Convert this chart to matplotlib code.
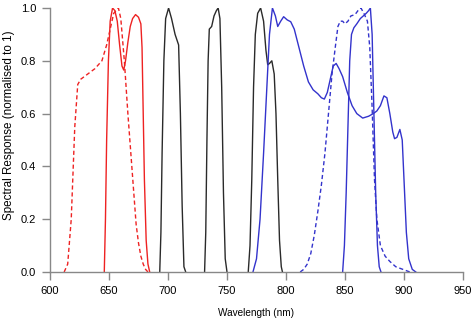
import matplotlib
matplotlib.use("Agg")
import matplotlib.pyplot as plt

plt.rcParams["font.family"] = ["Liberation Sans", "DejaVu Sans"]

# red, dashed
red_dash_x = [612, 615, 618, 621, 623.5, 626, 632, 638, 644, 648, 651, 654, 656, 658, 660, 663, 666, 669, 671, 673, 675, 677, 679, 681, 683]
red_dash_y = [0.0, 0.03, 0.2, 0.55, 0.71, 0.73, 0.75, 0.77, 0.80, 0.86, 0.92, 0.98, 0.99, 1.0, 0.96, 0.8, 0.6, 0.42, 0.3, 0.18, 0.11, 0.06, 0.03, 0.01, 0.0]
# red, solid
red_x = [646, 647, 648, 649.5, 651, 653, 655, 657, 659, 661, 662.5, 664, 666, 668, 670, 672.5, 675, 677, 678, 679, 680, 681.5, 683, 684.5]
red_y = [0.0, 0.2, 0.5, 0.8, 0.95, 1.0, 0.99, 0.95, 0.86, 0.78, 0.765, 0.8, 0.87, 0.93, 0.96, 0.975, 0.965, 0.94, 0.85, 0.6, 0.35, 0.12, 0.03, 0.0]
# black bands
blk1_x = [693, 694, 695, 696.5, 698, 700.5, 703, 706, 709, 710.5, 712, 713.5, 715]
blk1_y = [0.0, 0.15, 0.45, 0.8, 0.96, 1.0, 0.96, 0.9, 0.86, 0.6, 0.25, 0.02, 0.0]
blk2_x = [731, 732, 733, 734, 735, 737, 739, 741, 742.5, 744, 745.5, 747, 748.5, 750]
blk2_y = [0.0, 0.15, 0.5, 0.8, 0.92, 0.93, 0.97, 0.99, 1.0, 0.96, 0.7, 0.3, 0.05, 0.0]
blk3_x = [768, 769.5, 771, 772.5, 774, 776, 778.5, 781, 783, 784.5, 786, 788, 790, 791.5, 793, 794.5, 796, 797]
blk3_y = [0.0, 0.1, 0.35, 0.7, 0.9, 0.98, 1.0, 0.95, 0.84, 0.785, 0.79, 0.80, 0.75, 0.6, 0.35, 0.12, 0.02, 0.0]
# blue, solid broad
blu_x = [772, 775, 778, 781, 784, 786, 788.5, 791, 793, 795.5, 798, 801, 804, 807, 811, 815, 819, 823, 827, 830, 832.5, 835, 838, 840, 842.5,
         845, 848, 852, 856, 860, 865, 870, 874, 877, 880, 883, 885.5, 888, 890.5, 892, 894, 896.5, 898.5, 900, 902, 904, 907, 910]
blu_y = [0.0, 0.05, 0.2, 0.45, 0.72, 0.9, 1.0, 0.97, 0.93, 0.95, 0.967, 0.955, 0.948, 0.92, 0.85, 0.78, 0.72, 0.69, 0.675, 0.66, 0.655, 0.68, 0.74, 0.78, 0.79,
         0.77, 0.74, 0.68, 0.63, 0.6, 0.583, 0.59, 0.6, 0.61, 0.63, 0.667, 0.66, 0.6, 0.53, 0.505, 0.51, 0.54, 0.5, 0.35, 0.15, 0.05, 0.01, 0.0]
# blue, dashed
blu_dash_x = [812, 815, 818, 821, 824, 827, 830, 833, 836, 839, 842, 844, 846, 848, 850, 852.5, 855, 858.5, 861, 863.5, 866, 869, 871, 873, 875, 877, 880, 884, 888, 893, 899, 905]
blu_dash_y = [0.0, 0.01, 0.03, 0.07, 0.14, 0.23, 0.33, 0.45, 0.6, 0.75, 0.86, 0.93, 0.95, 0.95, 0.94, 0.95, 0.97, 0.975, 0.99, 1.0, 0.98, 0.95, 0.85, 0.62, 0.35, 0.2, 0.1, 0.06, 0.04, 0.02, 0.01, 0.0]
# blue, solid narrow
blu2_x = [848, 849.5, 851, 852.5, 854, 855.5, 857.5, 860, 863, 865.5, 868, 870, 871.5, 873, 874.5, 876, 877.5, 879, 880.5]
blu2_y = [0.0, 0.1, 0.3, 0.55, 0.8, 0.9, 0.925, 0.94, 0.96, 0.97, 0.98, 0.99, 1.0, 0.9, 0.6, 0.3, 0.1, 0.02, 0.0]

x_ticks = [600, 650, 700, 750, 800, 850, 900, 950]
y_ticks = [0.0, 0.2, 0.4, 0.6, 0.8, 1.0]

RED = "#ee2222"
BLACK = "#2a2a2a"
BLUE = "#3333cc"

fig = plt.figure(figsize=(4.74, 3.25), dpi=100)
ax = fig.add_axes([50 / 474, 53 / 325, 413 / 474, 264 / 325])

lw = 1.0
ax.plot(red_dash_x, red_dash_y, color=RED, lw=lw, ls=(0, (3, 2)))
ax.plot(red_x, red_y, color=RED, lw=lw)
for xs, ys in [(blk1_x, blk1_y), (blk2_x, blk2_y), (blk3_x, blk3_y)]:
    ax.plot(xs, ys, color=BLACK, lw=lw)
ax.plot(blu_x, blu_y, color=BLUE, lw=lw)
ax.plot(blu_dash_x, blu_dash_y, color=BLUE, lw=lw, ls=(0, (3, 2)))
ax.plot(blu2_x, blu2_y, color=BLUE, lw=lw)

ax.set_xlim(600, 950)
ax.set_ylim(0, 1.0)
ax.set_xticks(x_ticks)
ax.set_yticks(y_ticks)
ax.set_yticklabels([f"{v:.1f}" for v in y_ticks])
for s in ["top", "right"]:
    ax.spines[s].set_visible(False)
for s in ["left", "bottom"]:
    ax.spines[s].set_color("#888888")
    ax.spines[s].set_linewidth(1.0)
ax.tick_params(colors="#888888", labelcolor="black", length=6, width=1.0, labelsize=8, pad=4)

fig.text(256 / 474, 1 - 313 / 325, "Wavelength (nm)", ha="center", va="center", fontsize=7.2)
fig.text(9 / 474, 1 - 125 / 325, "Spectral Response (normalised to 1)", ha="center", va="center",
         rotation=90, fontsize=8.4)

fig.savefig("out.png", dpi=100)
